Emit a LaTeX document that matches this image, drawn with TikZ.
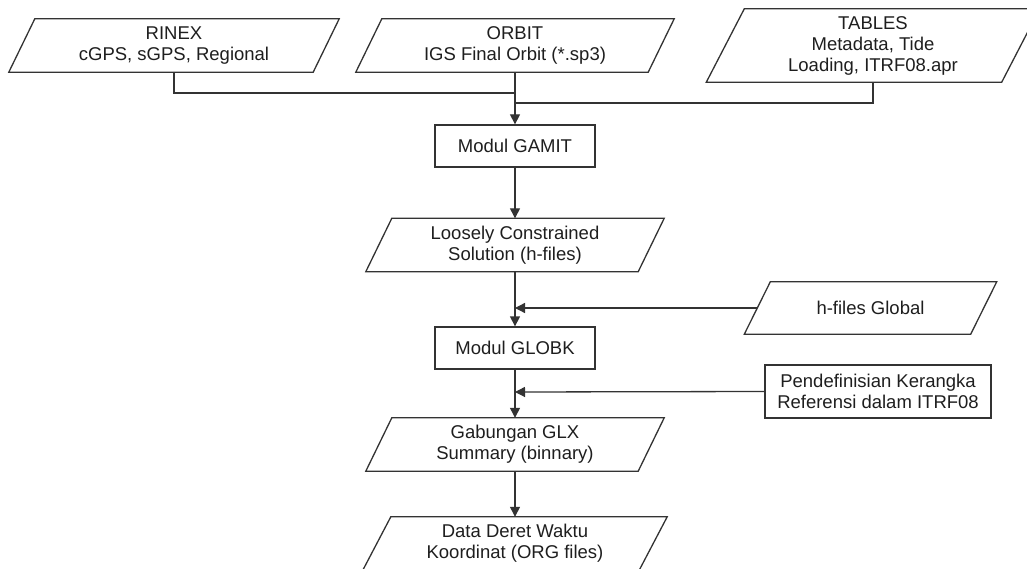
\documentclass[tikz,border=0pt]{standalone}
\usepackage{fontspec}
\setmainfont{Liberation Sans}
\usetikzlibrary{arrows.meta}
\definecolor{edge}{HTML}{333333}
\definecolor{txt}{HTML}{1E1E1E}
\newcommand\paraoutline[2]{\draw[conn] ([xshift=#2pt]#1.north west) -- ([xshift=#2pt]#1.north east) -- ([xshift=-#2pt]#1.south east) -- ([xshift=-#2pt]#1.south west) -- cycle;}
\begin{document}
\begin{tikzpicture}[x=1pt,y=-1pt,
  lbl/.style={font=\fontsize{18.5}{21}\selectfont, text=txt, align=center, inner sep=0pt},
  para/.style={lbl, minimum height=53pt},
  rbox/.style={lbl, draw=edge, line width=1.3pt, minimum width=160pt, minimum height=42pt},
  conn/.style={draw=edge, line width=1.3pt},
  arr/.style={conn, -{Triangle[length=10pt,width=10pt]}}]
\useasboundingbox (0,0) rectangle (1027,569);

\node[para, minimum width=304pt] (rinex) at (174,45.5) {RINEX\\cGPS, sGPS, Regional};
\node[para, minimum width=292pt] (orbit) at (515,45.5) {ORBIT\\IGS Final Orbit (*.sp3)};
\node[para, minimum width=295pt, minimum height=73pt] (tables) at (873,45.5) {TABLES\\Metadata, Tide\\Loading, ITRF08.apr};
\node[rbox] (gamit) at (515,146) {Modul GAMIT};
\node[para, minimum width=272pt] (loose) at (515,245) {Loosely Constrained\\Solution (h-files)};
\node[para, minimum width=226pt, minimum height=52pt] (hglob) at (870.5,308) {h-files Global};
\node[rbox] (globk) at (515,348) {Modul GLOBK};
\node[rbox, minimum width=226pt, minimum height=53pt] (pendef) at (878,391.5) {Pendefinisian Kerangka\\Referensi dalam ITRF08};
\node[para, minimum width=272pt] (glx) at (515,444.5) {Gabungan GLX\\Summary (binnary)};
\node[para, minimum width=276pt] (data) at (515,543.5) {Data Deret Waktu\\Koordinat (ORG files)};

\paraoutline{rinex}{13}
\paraoutline{orbit}{13}
\paraoutline{tables}{19}
\paraoutline{loose}{13}
\paraoutline{hglob}{13}
\paraoutline{glx}{13}
\paraoutline{data}{14}

\coordinate (j1) at (515,93);
\coordinate (j2) at (515,103);
\coordinate (j3) at (515,308);
\coordinate (j4) at (515,392);

\draw[conn] (rinex.south) |- (j1);
\draw[conn] (tables.south) |- (j2);
\draw[arr] (orbit.south) -- (gamit.north);
\draw[arr] (gamit.south) -- (loose.north);
\draw[arr] (loose.south) -- (globk.north);
\draw[arr] (hglob.west) -- (j3);
\draw[arr] (globk.south) -- (glx.north);
\draw[arr] (pendef.west) -- (j4);
\draw[arr] (glx.south) -- (data.north);
\end{tikzpicture}
\end{document}
